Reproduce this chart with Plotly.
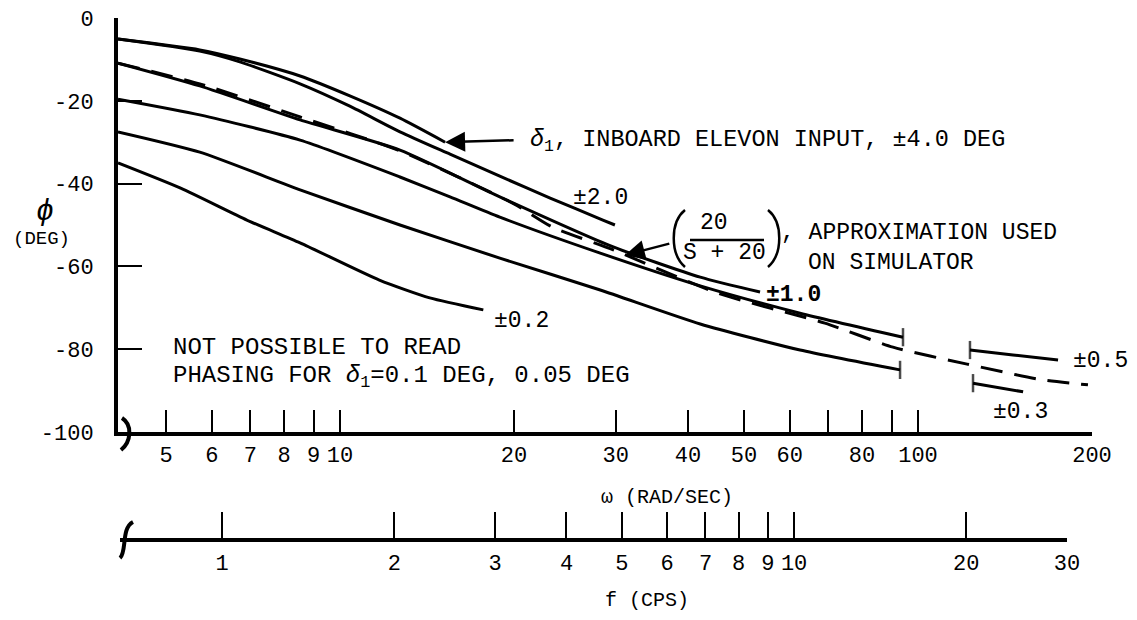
import math
import plotly.graph_objects as go

W, H = 1137, 620
FONT = "Liberation Mono"

# ---- phase angle (deg) vs. frequency (rad/sec), by inboard elevon input amplitude ----
w_40 = [4.13, 5.72, 6.71, 8.53, 10.4, 12.7, 15.2]
p_40 = [-5.1, -7.7, -9.9, -14.0, -18.8, -24.2, -30.0]

w_20 = [4.13, 5.72, 6.71, 8.53, 10.4, 12.7, 15.5, 18.9, 23.1, 28.5, 29.9]
p_20 = [-5.1, -8.0, -10.6, -15.9, -21.3, -27.5, -32.9, -38.2, -43.5, -48.8, -50.0]

w_10 = [4.13, 5.72, 8.53, 12.7, 18.9, 29.7, 42.0, 53.3]
p_10 = [-10.9, -16.4, -24.6, -31.9, -43.2, -55.3, -62.6, -66.2]

w_05_lo = [4.13, 5.72, 8.53, 12.7, 15.5, 18.9, 28.2, 42.0, 62.5, 94.2]
p_05_lo = [-19.6, -23.4, -29.5, -38.4, -43.2, -48.1, -56.8, -64.7, -71.3, -77.1]
w_05_hi = [123, 146, 174.7]
p_05_hi = [-80.2, -81.4, -82.6]

w_03_lo = [4.13, 5.72, 8.53, 12.7, 18.9, 28.2, 42.0, 62.5, 93.1]
p_03_lo = [-27.5, -32.4, -41.5, -50.0, -58.0, -65.7, -73.9, -80.2, -85.0]
w_03_hi = [124.5, 152]
p_03_hi = [-88.2, -90.3]

w_02 = [4.13, 5.3, 6.9, 8.53, 11.7, 14.3, 17.7]
p_02 = [-35.0, -41.1, -48.8, -54.3, -63.3, -67.6, -70.5]

# 20/(s+20) simulator approximation
w_sim = [4.13, 5.72, 8.53, 12.7, 20.0, 23.3, 29.7, 44.9, 69.0, 90.5, 121.6, 163.9, 196.8]
p_sim = [-10.9, -15.9, -23.9, -32.1, -44.9, -50.5, -56.0, -66.4, -73.7, -79.5, -83.6, -87.4, -88.6]

# axis ticks
w_ticks = [5, 6, 7, 8, 9, 10, 20, 30, 40, 50, 60, 70, 80, 90, 100, 200]
w_ticktext = ["5", "6", "7", "8", "9", "10", "20", "30", "40", "50", "60", "", "80", "", "100", "200"]
f_ticks = [1, 2, 3, 4, 5, 6, 7, 8, 9, 10, 20, 30]
phi_ticks = [0, -20, -40, -60, -80, -100]


def px(x):
    return x / W


def py(y):
    return 1 - y / H


fig = go.Figure()


def curve(w, p, dash="solid", end_marks=()):
    sizes = [0] * len(w)
    for i in end_marks:
        sizes[i] = 13
    fig.add_trace(go.Scatter(
        x=w, y=p, mode="lines+markers" if end_marks else "lines",
        line=dict(color="black", width=3, dash=dash, shape="spline", smoothing=0.6),
        marker=dict(symbol="line-ns", size=sizes, color="black",
                    line=dict(color="black", width=2.5)),
        showlegend=False, hoverinfo="skip", cliponaxis=False,
    ))


curve(w_40, p_40)
curve(w_20, p_20)
curve(w_10, p_10)
curve(w_05_lo, p_05_lo, end_marks=(-1,))
curve(w_05_hi, p_05_hi, end_marks=(0,))
curve(w_03_lo, p_03_lo, end_marks=(-1,))
curve(w_03_hi, p_03_hi, end_marks=(0,))
curve(w_02, p_02)
curve(w_sim, p_sim, dash="22px,12px")

# the cycles-per-second scale is its own axis underneath the rad/sec one
fig.add_trace(go.Scatter(x=[f_ticks[0], f_ticks[-1]], y=[0, 0], xaxis="x2", yaxis="y2",
                         mode="lines", line=dict(width=0), showlegend=False, hoverinfo="skip"))

tickfont = dict(family=FONT, size=22, color="black")

fig.update_layout(
    template="none",
    width=W, height=H,
    margin=dict(l=0, r=0, t=0, b=0, autoexpand=False),
    paper_bgcolor="white", plot_bgcolor="white",
    showlegend=False,
    xaxis=dict(
        type="log", range=[math.log10(4.13), math.log10(200)],
        domain=[px(118), px(1092)], anchor="y", automargin=False,
        showline=True, linewidth=4, linecolor="black",
        ticks="inside", ticklen=22, tickwidth=2, tickcolor="black",
        tickvals=w_ticks, ticktext=w_ticktext, tickfont=tickfont,
        ticklabelstandoff=0,
        showgrid=False, zeroline=False,
    ),
    yaxis=dict(
        range=[-100, 0], domain=[py(432), py(18)], anchor="x", automargin=False,
        showline=True, linewidth=4, linecolor="black",
        ticks="inside", ticklen=24, tickwidth=2, tickcolor="black",
        tickvals=phi_ticks, ticktext=[str(v) for v in phi_ticks], tickfont=tickfont,
        ticklabelstandoff=16,
        showgrid=False, zeroline=False,
    ),
    xaxis2=dict(
        type="log", range=[-0.1785, math.log10(30)],
        domain=[px(120), px(1067)], anchor="y2", automargin=False,
        showline=True, linewidth=4, linecolor="black",
        ticks="inside", ticklen=26, tickwidth=2, tickcolor="black",
        tickvals=f_ticks, ticktext=[str(v) for v in f_ticks], tickfont=tickfont,
        ticklabelstandoff=2,
        showgrid=False, zeroline=False,
    ),
    yaxis2=dict(domain=[py(538), py(530)], anchor="x2", visible=False, range=[0, 1],
                automargin=False),
)

ann = []


def text(x, y, s, size=23, xanchor="center", **kw):
    ann.append(dict(x=px(x), y=py(y), xref="paper", yref="paper", text=s,
                    showarrow=False, xanchor=xanchor, yanchor="middle",
                    font=dict(family=FONT, size=size, color="black"), **kw))


# axis titles
text(45, 212, "<i>ϕ</i>", size=30)
text(41, 239, "(DEG)", size=19)
text(667, 497, "ω (RAD/SEC)", size=20)
text(647, 600, "f (CPS)", size=20)

# curve labels
text(528, 141, "<i>δ</i><sub>1</sub>, INBOARD ELEVON INPUT, ±4.0 DEG", size=23.5, xanchor="left")
text(600, 198, "±2.0")
text(793, 295, "<b>±1.0</b>")
text(521, 321, "±0.2")
text(1100, 361, "±0.5")
text(1020, 412, "±0.3")
text(171, 347, "NOT POSSIBLE TO READ", size=24, xanchor="left")
text(171, 377, "PHASING FOR <i>δ</i><sub>1</sub>=0.1 DEG, 0.05 DEG", size=24, xanchor="left")

# transfer-function label
text(714, 223, "20")
text(724, 253, "S + 20")
text(779, 233, ", APPROXIMATION USED", xanchor="left")
text(806, 263, "ON SIMULATOR", xanchor="left")

# arrows pointing at the curves
ann.append(dict(x=math.log10(w_40[-1]), y=p_40[-1], xref="x", yref="y", ax=70, ay=-2,
                showarrow=True, arrowhead=2, arrowsize=1.6, arrowwidth=2.5,
                arrowcolor="black", text=""))
ann.append(dict(x=math.log10(31.1), y=-57.3, xref="x", yref="y", ax=46, ay=-12,
                showarrow=True, arrowhead=2, arrowsize=1.6, arrowwidth=2.5,
                arrowcolor="black", text=""))

fig.update_layout(annotations=ann)


def cubic(points, width):
    (x0, y0), (x1, y1), (x2, y2), (x3, y3) = points
    return dict(type="path", xref="paper", yref="paper",
                path=f"M {px(x0)},{py(y0)} C {px(x1)},{py(y1)} {px(x2)},{py(y2)} {px(x3)},{py(y3)}",
                line=dict(color="black", width=width))


shapes = [
    # fraction bar and parentheses of 20/(S+20)
    dict(type="line", xref="paper", yref="paper", x0=px(690), x1=px(764), y0=py(240), y1=py(240),
         line=dict(color="black", width=2.5)),
    cubic([(685, 210), (670, 222), (670, 254), (685, 267)], 2.5),
    cubic([(768, 210), (783, 222), (783, 254), (768, 267)], 2.5),
    # axis break marks
    cubic([(122, 418), (133, 425), (131, 442), (121, 450)], 4),
    cubic([(133, 522), (121, 528), (127, 552), (120, 558)], 4),
]
fig.update_layout(shapes=shapes)

fig.write_html("out.html")
